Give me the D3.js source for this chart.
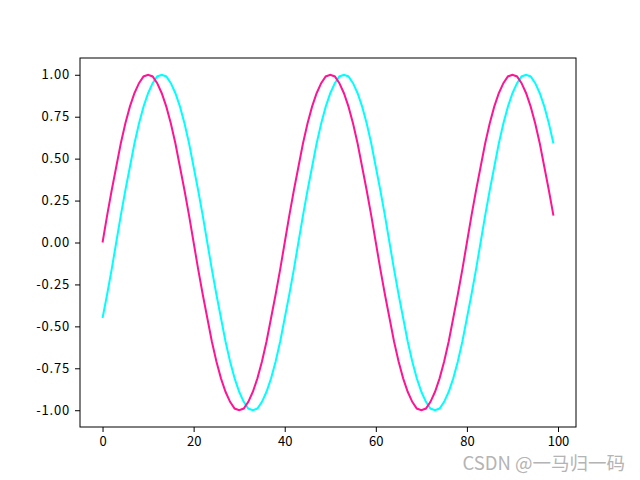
<!DOCTYPE html>
<html><head><meta charset="utf-8">
<script src="https://cdn.jsdelivr.net/npm/d3@7"></script>
<style>html,body{margin:0;padding:0;background:#fff;}svg{display:block;}</style>
</head><body>
<svg id="chart" width="640" height="480"></svg>
<script>
const xValues = d3.range(0, 100);
const pinkValues = [
 0.00,0.16,0.31,0.45,0.59,0.71,0.81,0.89,0.95,0.99,1.00,0.99,0.95,0.89,0.81,0.71,0.59,0.45,0.31,0.16,
 0.00,-0.16,-0.31,-0.45,-0.59,-0.71,-0.81,-0.89,-0.95,-0.99,-1.00,-0.99,-0.95,-0.89,-0.81,-0.71,-0.59,-0.45,-0.31,-0.16,
 0.00,0.16,0.31,0.45,0.59,0.71,0.81,0.89,0.95,0.99,1.00,0.99,0.95,0.89,0.81,0.71,0.59,0.45,0.31,0.16,
 0.00,-0.16,-0.31,-0.45,-0.59,-0.71,-0.81,-0.89,-0.95,-0.99,-1.00,-0.99,-0.95,-0.89,-0.81,-0.71,-0.59,-0.45,-0.31,-0.16,
 0.00,0.16,0.31,0.45,0.59,0.71,0.81,0.89,0.95,0.99,1.00,0.99,0.95,0.89,0.81,0.71,0.59,0.45,0.31,0.16
];
const cyanValues = [
 -0.45,-0.31,-0.16,
 0.00,0.16,0.31,0.45,0.59,0.71,0.81,0.89,0.95,0.99,1.00,0.99,0.95,0.89,0.81,0.71,0.59,0.45,0.31,0.16,
 0.00,-0.16,-0.31,-0.45,-0.59,-0.71,-0.81,-0.89,-0.95,-0.99,-1.00,-0.99,-0.95,-0.89,-0.81,-0.71,-0.59,-0.45,-0.31,-0.16,
 0.00,0.16,0.31,0.45,0.59,0.71,0.81,0.89,0.95,0.99,1.00,0.99,0.95,0.89,0.81,0.71,0.59,0.45,0.31,0.16,
 0.00,-0.16,-0.31,-0.45,-0.59,-0.71,-0.81,-0.89,-0.95,-0.99,-1.00,-0.99,-0.95,-0.89,-0.81,-0.71,-0.59,-0.45,-0.31,-0.16,
 0.00,0.16,0.31,0.45,0.59,0.71,0.81,0.89,0.95,0.99,1.00,0.99,0.95,0.89,0.81,0.71,0.59
];
const xTicks = [0, 20, 40, 60, 80, 100];
const yTicks = [-1.00, -0.75, -0.50, -0.25, 0.00, 0.25, 0.50, 0.75, 1.00];
const watermark = "CSDN @一马归一码";

(function () {
  const svg = d3.select("#chart");
  const mLeft = 80, mRight = 576, mTop = 58, mBottom = 427;
  const x = d3.scaleLinear().domain([-4.95, 103.95]).range([mLeft, mRight]);
  const y = d3.scaleLinear().domain([-1.1, 1.1]).range([mBottom, mTop]);
  const font = "'Noto Sans CJK SC', 'DejaVu Sans', sans-serif";

  const line = d3.line().x((d, i) => x(xValues[i])).y(d => y(d));
  svg.append("path").datum(cyanValues).attr("d", line)
    .attr("fill", "none").attr("stroke", "#00ffff").attr("stroke-width", 2);
  svg.append("path").datum(pinkValues).attr("d", line)
    .attr("fill", "none").attr("stroke", "#ff1493").attr("stroke-width", 2);

  const fmt = d => d3.format(".2f")(d).replace("−", "-");
  const xAxis = svg.append("g").attr("transform", `translate(0,${mBottom})`)
    .call(d3.axisBottom(x).tickValues(xTicks).tickSizeOuter(0).tickSize(5).tickPadding(5));
  const yAxis = svg.append("g").attr("transform", `translate(${mLeft},0)`)
    .call(d3.axisLeft(y).tickValues(yTicks).tickFormat(fmt).tickSizeOuter(0).tickSize(5).tickPadding(5));
  [xAxis, yAxis].forEach(g => {
    g.select(".domain").remove();
    g.selectAll(".tick line").attr("stroke", "#000").attr("stroke-width", 1);
    g.selectAll("text").attr("font-family", font).attr("font-size", 13).attr("fill", "#000");
  });
  yAxis.selectAll("text").attr("letter-spacing", "0.8px");

  svg.append("rect").attr("x", mLeft).attr("y", mTop).attr("width", mRight - mLeft).attr("height", mBottom - mTop)
    .attr("fill", "none").attr("stroke", "#000").attr("stroke-width", 1);

  svg.append("text").attr("x", 625).attr("y", 470).attr("text-anchor", "end")
    .attr("font-family", font).attr("font-size", 18.5).attr("fill", "#b4b4b4")
    .attr("stroke", "#ffffff").attr("stroke-width", 0.5).attr("paint-order", "stroke")
    .text(watermark);
})();
</script>
</body></html>
